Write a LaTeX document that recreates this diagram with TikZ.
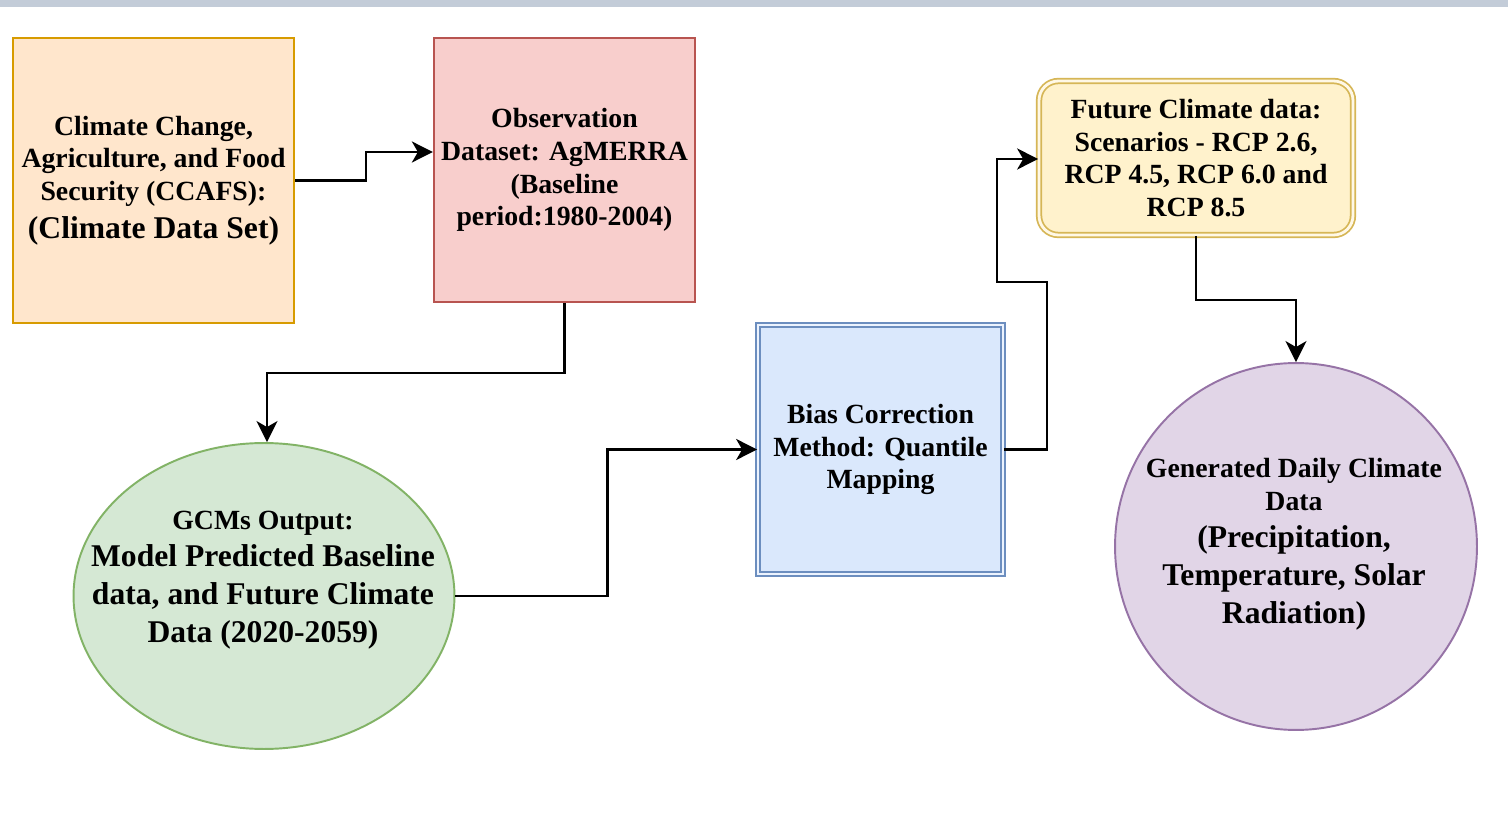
\documentclass[tikz,border=0pt]{standalone}
\usepackage{fontspec}
\setmainfont{Liberation Serif}
\usepackage{tikz}
\usetikzlibrary{arrows.meta,shapes.geometric,positioning,calc}

\definecolor{ccafsfill}{HTML}{FFE6CC}
\definecolor{ccafsline}{HTML}{D79B00}
\definecolor{obsfill}{HTML}{F8CECC}
\definecolor{obsline}{HTML}{B85450}
\definecolor{gcmfill}{HTML}{D5E8D4}
\definecolor{gcmline}{HTML}{82B366}
\definecolor{biasfill}{HTML}{DAE8FC}
\definecolor{biasline}{HTML}{6C8EBF}
\definecolor{futfill}{HTML}{FFF2CC}
\definecolor{futline}{HTML}{D6B656}
\definecolor{dailyfill}{HTML}{E1D5E7}
\definecolor{dailyline}{HTML}{9673A6}
\definecolor{bandcol}{HTML}{C3CCD8}

\newcommand\smallfs{\fontsize{15.8}{18.7}\selectfont}
\newcommand\largefs{\fontsize{18}{18.7}\selectfont}

\begin{document}
\begin{tikzpicture}[
    x=0.02cm, y=-0.02cm,
    box/.style={draw, line width=1.3pt, inner sep=0pt, align=center, font=\bfseries\smallfs},
    blob/.style={draw, ellipse, line width=1.1pt, inner sep=0pt},
    txt/.style={align=center, font=\bfseries\smallfs, inner sep=0pt},
    arr/.style={-{Stealth[length=0.42cm, width=0.42cm, inset=0.12cm]}, line width=1.4pt}
]
\useasboundingbox (0,0) rectangle (1508,817);
\fill[white] (0,0) rectangle (1508,817);
\fill[bandcol] (0,0) rectangle (1508,7);

\node[box, fill=ccafsfill, draw=ccafsline, minimum width=5.62cm, minimum height=5.7cm] (ccafs) at (153.5,180.5)
    {Climate Change,\\Agriculture, and Food\\Security (CCAFS):\\[2.8pt]\largefs (Climate Data Set)};
\node[box, fill=obsfill, draw=obsline, minimum width=5.22cm, minimum height=5.28cm] (obs) at (564.5,170)
    {Observation\\Dataset: AgMERRA\\(Baseline\\period:1980-2004)};
\node[blob, fill=gcmfill, draw=gcmline, minimum width=7.62cm, minimum height=6.12cm] (gcm) at (264,596) {};
\node[txt] (gcmtxt) at (263,580)
    {GCMs Output:\\[2.8pt]\largefs Model Predicted Baseline\\[2.8pt]\largefs data, and Future Climate\\[2.8pt]\largefs Data (2020-2059)};
\node[box, fill=biasfill, draw=biasline, line width=1pt, double=biasfill!50!white, double distance=1.6pt,
    minimum width=4.9cm, minimum height=4.98cm] (bias) at (880.5,449.5)
    {Bias Correction\\Method: Quantile\\Mapping};
\node[box, fill=futfill, draw=futline, line width=1pt, double=futfill!50!white, double distance=1.6pt,
    rounded corners=11pt, minimum width=6.28cm, minimum height=3.08cm] (future) at (1196,158)
    {Future Climate data:\\Scenarios - RCP 2.6,\\RCP 4.5, RCP 6.0 and\\RCP 8.5};
\node[blob, fill=dailyfill, draw=dailyline, minimum width=7.24cm, minimum height=7.34cm] (daily) at (1296,546.5) {};
\node[txt] (dailytxt) at (1294,544)
    {Generated Daily Climate\\Data\\[2.8pt]\largefs (Precipitation,\\[2.8pt]\largefs Temperature, Solar\\[2.8pt]\largefs Radiation)};

\draw[arr] (ccafs.east) -- ++(71,0) |- ([yshift=0.36cm]obs.west);
\draw[arr] (obs.south) -- ++(0,70) -| ([xshift=0.06cm]gcm.north);
\draw[arr] (gcm.east) -- ++(152,0) |- (bias.west);
\draw[arr] (bias.east) -- ++(43,0) -- ++(0,-167.5) -- ++(-50,0) |- ([yshift=-0.02cm]future.west);
\draw[arr] (future.south) -- ++(0,64) -| (daily.north);
\end{tikzpicture}
\end{document}
